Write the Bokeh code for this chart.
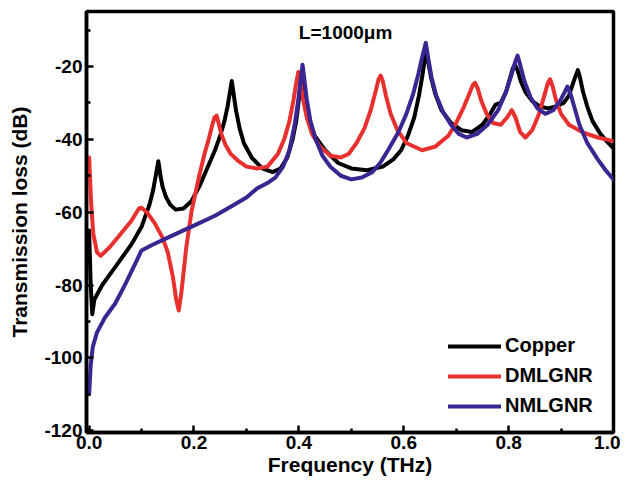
from bokeh.plotting import figure
from bokeh.models import Legend, LegendItem, Label, FixedTicker, Range1d
from bokeh.embed import file_html
from bokeh.resources import INLINE

freq_copper = [0.000, 0.003, 0.006, 0.010, 0.025, 0.05, 0.08, 0.10, 0.115, 0.122, 0.127, 0.132, 0.136,
               0.14, 0.147, 0.155, 0.165, 0.18, 0.195, 0.21, 0.225, 0.24, 0.25, 0.258, 0.264, 0.268,
               0.272, 0.276, 0.28, 0.287, 0.295, 0.31, 0.33, 0.35, 0.365, 0.378, 0.388, 0.395, 0.4,
               0.403, 0.406, 0.409, 0.413, 0.42, 0.43, 0.45, 0.475, 0.50, 0.53, 0.56, 0.58, 0.595,
               0.608, 0.62, 0.629, 0.635, 0.639, 0.643, 0.647, 0.652, 0.66, 0.672, 0.69, 0.71, 0.73,
               0.75, 0.765, 0.775, 0.785, 0.795, 0.802, 0.808, 0.812, 0.817, 0.823, 0.832, 0.845,
               0.86, 0.875, 0.89, 0.905, 0.915, 0.922, 0.928, 0.932, 0.936, 0.942, 0.95, 0.96, 0.975,
               0.99, 1.0]
loss_copper = [-65, -80, -88, -84, -80, -75, -69, -64, -58, -54, -50, -46, -50,
               -53, -56, -58, -59.3, -59, -57, -53, -48, -43, -39, -35, -31, -27.5,
               -24, -28, -32, -37, -41, -45, -48, -49, -48, -45, -40, -35, -29,
               -25, -21, -25, -30, -35, -39, -43, -46.5, -48, -48.5, -47.5, -45.5, -43,
               -39, -34, -28, -23, -19, -15.5, -19, -23, -27.5, -32, -35.5, -37.5, -38,
               -36, -33, -30.5, -30, -27, -23.5, -20.5, -19.5, -21, -24, -27, -29.5,
               -31, -31.5, -31, -30, -28, -25, -22.5, -21, -23, -27, -31, -35, -38.5,
               -41, -42.5]

freq_dmlgnr = [0.000, 0.004, 0.008, 0.015, 0.022, 0.04, 0.06, 0.08, 0.095, 0.10, 0.11, 0.125, 0.14,
               0.15, 0.16, 0.166, 0.171, 0.176, 0.185, 0.195, 0.21, 0.22, 0.228, 0.235, 0.239, 0.243,
               0.247, 0.252, 0.26, 0.27, 0.285, 0.30, 0.32, 0.34, 0.36, 0.372, 0.382, 0.39, 0.395,
               0.399, 0.403, 0.408, 0.415, 0.425, 0.44, 0.46, 0.48, 0.495, 0.51, 0.525, 0.537, 0.546,
               0.552, 0.556, 0.56, 0.566, 0.575, 0.588, 0.605, 0.635, 0.66, 0.685, 0.70, 0.715, 0.725,
               0.732, 0.736, 0.741, 0.748, 0.758, 0.77, 0.785, 0.797, 0.806, 0.813, 0.822, 0.832,
               0.845, 0.858, 0.868, 0.875, 0.879, 0.884, 0.89, 0.90, 0.915, 0.94, 0.97, 1.0]
loss_dmlgnr = [-45, -58, -66, -71, -72, -69.5, -66, -62.5, -59, -58.8, -60, -63, -67,
               -71, -78, -84, -87, -82, -70, -60, -50, -44, -40, -36, -34, -33.5,
               -35.5, -38.5, -41.5, -44, -46, -47.5, -48, -47.5, -44, -40, -35, -29, -24.5,
               -21.5, -24.5, -29, -34, -38.5, -42, -44.5, -45, -44, -41, -37, -32, -27,
               -23.5, -22.5, -24, -28, -33, -37.5, -41, -43, -42, -39, -35.5, -31, -27.5,
               -25, -24.5, -26, -29.5, -33, -35.5, -36, -34, -32, -34, -38, -39.5,
               -37.5, -33, -28, -24.5, -23.5, -25.5, -29, -33, -36, -38, -39.5, -40.5]

freq_nmlgnr = [0.000, 0.003, 0.007, 0.015, 0.03, 0.05, 0.07, 0.085, 0.10, 0.12, 0.15, 0.18, 0.21,
               0.24, 0.27, 0.30, 0.32, 0.34, 0.355, 0.37, 0.382, 0.392, 0.399, 0.404, 0.407, 0.41,
               0.415, 0.422, 0.432, 0.445, 0.46, 0.48, 0.50, 0.52, 0.54, 0.555, 0.57, 0.59, 0.605,
               0.618, 0.628, 0.635, 0.642, 0.647, 0.653, 0.662, 0.675, 0.69, 0.705, 0.72, 0.74, 0.76,
               0.78, 0.795, 0.805, 0.812, 0.817, 0.822, 0.83, 0.842, 0.855, 0.87, 0.885, 0.898, 0.907,
               0.912, 0.918, 0.925, 0.935, 0.95, 0.97, 0.985, 1.0]
loss_nmlgnr = [-110, -102, -97, -93, -89, -85, -79.5, -75, -70.5, -69, -67, -65, -63,
               -61, -58.5, -56, -53.5, -52, -50.5, -47.5, -43, -36, -29, -23, -19.5, -23,
               -29, -35, -40, -44.5, -47.5, -50, -51, -50.5, -49, -46.5, -43, -38, -33,
               -27.5, -22, -17.5, -13.5, -18, -23, -28, -32.5, -36, -38.5, -39.5, -38.5, -36,
               -32, -27, -22.5, -19, -17, -19.5, -24, -28.5, -31.5, -33, -32, -29.5, -27,
               -25.5, -27.5, -31, -36, -41, -45.5, -48.5, -51]

series_names = ["Copper", "DMLGNR", "NMLGNR"]
series_colors = ["#000000", "#e8302e", "#3b2592"]
x_ticks = [0.0, 0.2, 0.4, 0.6, 0.8, 1.0]
y_ticks = [-120, -100, -80, -60, -40, -20]
title_text = "L=1000\u03bcm"

FONT = "Liberation Sans"

p = figure(width=620, height=478, output_backend="svg", toolbar_location=None,
           x_range=Range1d(-0.005, 1.0), y_range=Range1d(-120.5, -4.9),
           min_border_left=86, min_border_right=7, min_border_top=11, min_border_bottom=40)
p.background_fill_color = "white"
p.border_fill_color = "white"
p.grid.visible = False
p.outline_line_color = "black"
p.outline_line_width = 3.5

renderers = []
for fx, fy, c in [(freq_copper, loss_copper, series_colors[0]),
                  (freq_dmlgnr, loss_dmlgnr, series_colors[1]),
                  (freq_nmlgnr, loss_nmlgnr, series_colors[2])]:
    r = p.line(fx, fy, line_color=c, line_width=4, line_join="round", line_cap="round")
    renderers.append(r)

for ax in (p.xaxis[0], p.yaxis[0]):
    ax.axis_line_width = 3.5
    ax.major_tick_in = 7
    ax.major_tick_out = 0
    ax.minor_tick_in = 4
    ax.minor_tick_out = 0
    ax.major_tick_line_width = 2.5
    ax.minor_tick_line_width = 2.5
    ax.major_label_text_font = FONT
    ax.major_label_text_font_style = "bold"
    ax.major_label_text_font_size = "19px"
    ax.major_label_text_color = "black"
    ax.axis_label_text_font = FONT
    ax.axis_label_text_font_style = "bold"
    ax.axis_label_text_font_size = "21px"
    ax.axis_label_text_color = "black"

p.xaxis.ticker = FixedTicker(ticks=x_ticks, minor_ticks=[0.1, 0.3, 0.5, 0.7, 0.9])
p.yaxis.ticker = FixedTicker(ticks=y_ticks, minor_ticks=[-110, -90, -70, -50, -30, -10])
p.xaxis.major_label_overrides = {t: f"{t:.1f}" for t in x_ticks}
p.yaxis.major_label_overrides = {t: f"{t}" for t in y_ticks}
p.xaxis.axis_label = "Frequency (THz)"
p.yaxis.axis_label = "Transmission loss (dB)"
p.xaxis.major_label_standoff = 3
p.yaxis.major_label_standoff = 4
p.xaxis.axis_label_standoff = 1
p.yaxis.axis_label_standoff = 10

legend = Legend(items=[LegendItem(label=n, renderers=[r]) for n, r in zip(series_names, renderers)],
                location=(362, 15), padding=0, margin=0, spacing=7,
                glyph_width=53, glyph_height=20, label_height=20, label_standoff=4,
                border_line_alpha=0, background_fill_alpha=0,
                label_text_font=FONT, label_text_font_style="bold",
                label_text_font_size="20px", label_text_color="black")
p.add_layout(legend)

p.add_layout(Label(x=0.4, y=-10.6, text=title_text, text_font=FONT, text_font_style="bold",
                   text_font_size="19px", text_baseline="middle", text_color="black"))

open("out.html", "w").write(file_html(p, INLINE))
